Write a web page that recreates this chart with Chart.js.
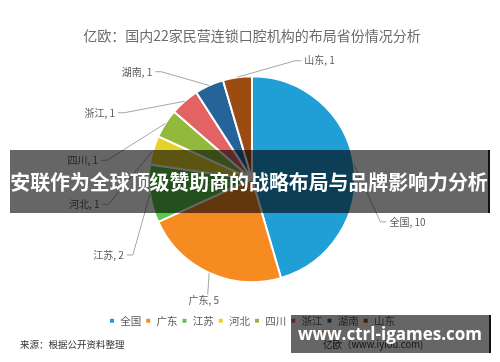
<!DOCTYPE html>
<html><head><meta charset="utf-8">
<script src="https://cdn.jsdelivr.net/npm/chart.js@4.4.1/dist/chart.umd.min.js"></script>
<style>
html,body{margin:0;padding:0;background:#fff;}
#wrap{position:relative;width:500px;height:362px;overflow:hidden;}
canvas{position:absolute;left:0;top:0;}
.txt{position:absolute;font-family:"Noto Sans CJK SC","Noto Sans",sans-serif;white-space:nowrap;}
#banner{position:absolute;left:10px;top:150px;width:478px;height:63px;background:rgba(0,0,0,0.6);border-right:2px solid #111;
 color:#fff;font-family:"Noto Sans CJK SC",sans-serif;font-weight:bold;font-size:19.9px;line-height:63px;text-align:center;white-space:nowrap;}
#wm{position:absolute;left:291px;top:315px;width:198px;height:38px;background:rgba(0,0,0,0.6);border-right:2px solid #111;
 color:#fff;font-family:"Open Sans","DejaVu Sans",sans-serif;font-weight:bold;font-size:17px;line-height:38px;text-align:center;white-space:nowrap;}
</style></head>
<body><div id="wrap">
<canvas id="c" width="500" height="362"></canvas>
<div class="txt" style="left:20px;top:337px;font-size:9.5px;color:#333;">来源：根据公开资料整理</div>
<div class="txt" style="left:323px;top:337px;font-size:9.5px;color:#333;">亿欧（www.iyiou.com)</div>
<div id="banner">安联作为全球顶级赞助商的战略布局与品牌影响力分析</div>
<div id="wm">www.ctrl-igames.com</div>
</div>
<script>
const categories = ["全国","广东","江苏","河北","四川","浙江","湖南","山东"];
const counts = [10,5,2,1,1,1,1,1];
const sliceColors = ["#1f9fd5","#f68b22","#5ac84a","#e6d22b","#92b83c","#e36264","#24649a","#9c4b12"];
const chartTitle = "亿欧：国内22家民营连锁口腔机构的布局省份情况分析";

// outside labels with leader lines, placed by a smooth "best fit" rule
const outLabels = {
  id:'outLabels',
  afterDraw(chart){
    const ctx = chart.ctx;
    const meta = chart.getDatasetMeta(0);
    ctx.save();
    ctx.font = '10px "Noto Sans CJK SC", sans-serif';
    ctx.textBaseline = 'middle';
    meta.data.forEach((arc,i)=>{
      const p = arc.getProps(['x','y','startAngle','endAngle','outerRadius'],true);
      const {x,y,outerRadius:R} = p;
      const mid = (p.startAngle+p.endAngle)/2;
      let d = (mid + Math.PI/2)*180/Math.PI;
      d = d - 28*Math.sin((d-185)*Math.PI/180);
      d = ((d%360)+360)%360;
      if (d > 335) d = 360 - d + 4;      // keep labels out of the top-left sector
      const th = d*Math.PI/180;
      const sx = Math.sin(th), cy = -Math.cos(th);
      const bottom = cy > 0.8;
      const ry = cy < 0 ? 1.33 : (bottom ? 1.16 : 1.27);
      const rx = sx >= 0 ? 1.32 : 1.42;
      const ax = x + sx*R*rx - (bottom ? 6 : 0);
      const ay = Math.max(y + cy*R*ry, y - R*1.15);
      const px = x + Math.cos(mid)*R, py = y + Math.sin(mid)*R;
      const label = categories[i] + ', ' + counts[i];
      ctx.strokeStyle = '#a6a6a6'; ctx.lineWidth = 1;
      ctx.beginPath(); ctx.moveTo(px,py); ctx.lineTo(ax,ay);
      ctx.fillStyle = '#595959';
      if (bottom){
        ctx.stroke();
        ctx.textAlign='center'; ctx.fillText(label, ax-4, ay+6);
      } else if (sx >= 0){
        ctx.lineTo(ax+6, ay); ctx.stroke();
        ctx.textAlign='left'; ctx.fillText(label, ax+9, ay);
      } else {
        ctx.lineTo(ax-6, ay); ctx.stroke();
        ctx.textAlign='right'; ctx.fillText(label, ax-9, ay);
      }
    });
    ctx.restore();
  }
};

new Chart(document.getElementById('c'), {
  type:'pie',
  data:{ labels:categories, datasets:[{ data:counts, backgroundColor:sliceColors, borderColor:'#fff', borderWidth:2, radius:103 }]},
  options:{
    responsive:false, devicePixelRatio:1, animation:false,
    layout:{ padding:{left:4,right:0,top:0,bottom:26} },
    plugins:{
      tooltip:{enabled:false},
      title:{ display:true, text:chartTitle, color:'#6b6b6b', font:{family:'"Noto Sans CJK SC", sans-serif', size:14, weight:'normal'}, padding:{top:27,bottom:3} },
      legend:{ position:'bottom', labels:{ boxWidth:6, boxHeight:6, color:'#595959', padding:4, font:{family:'"Noto Sans CJK SC", sans-serif', size:10.5} } }
    }
  },
  plugins:[outLabels]
});
</script>
</body></html>
